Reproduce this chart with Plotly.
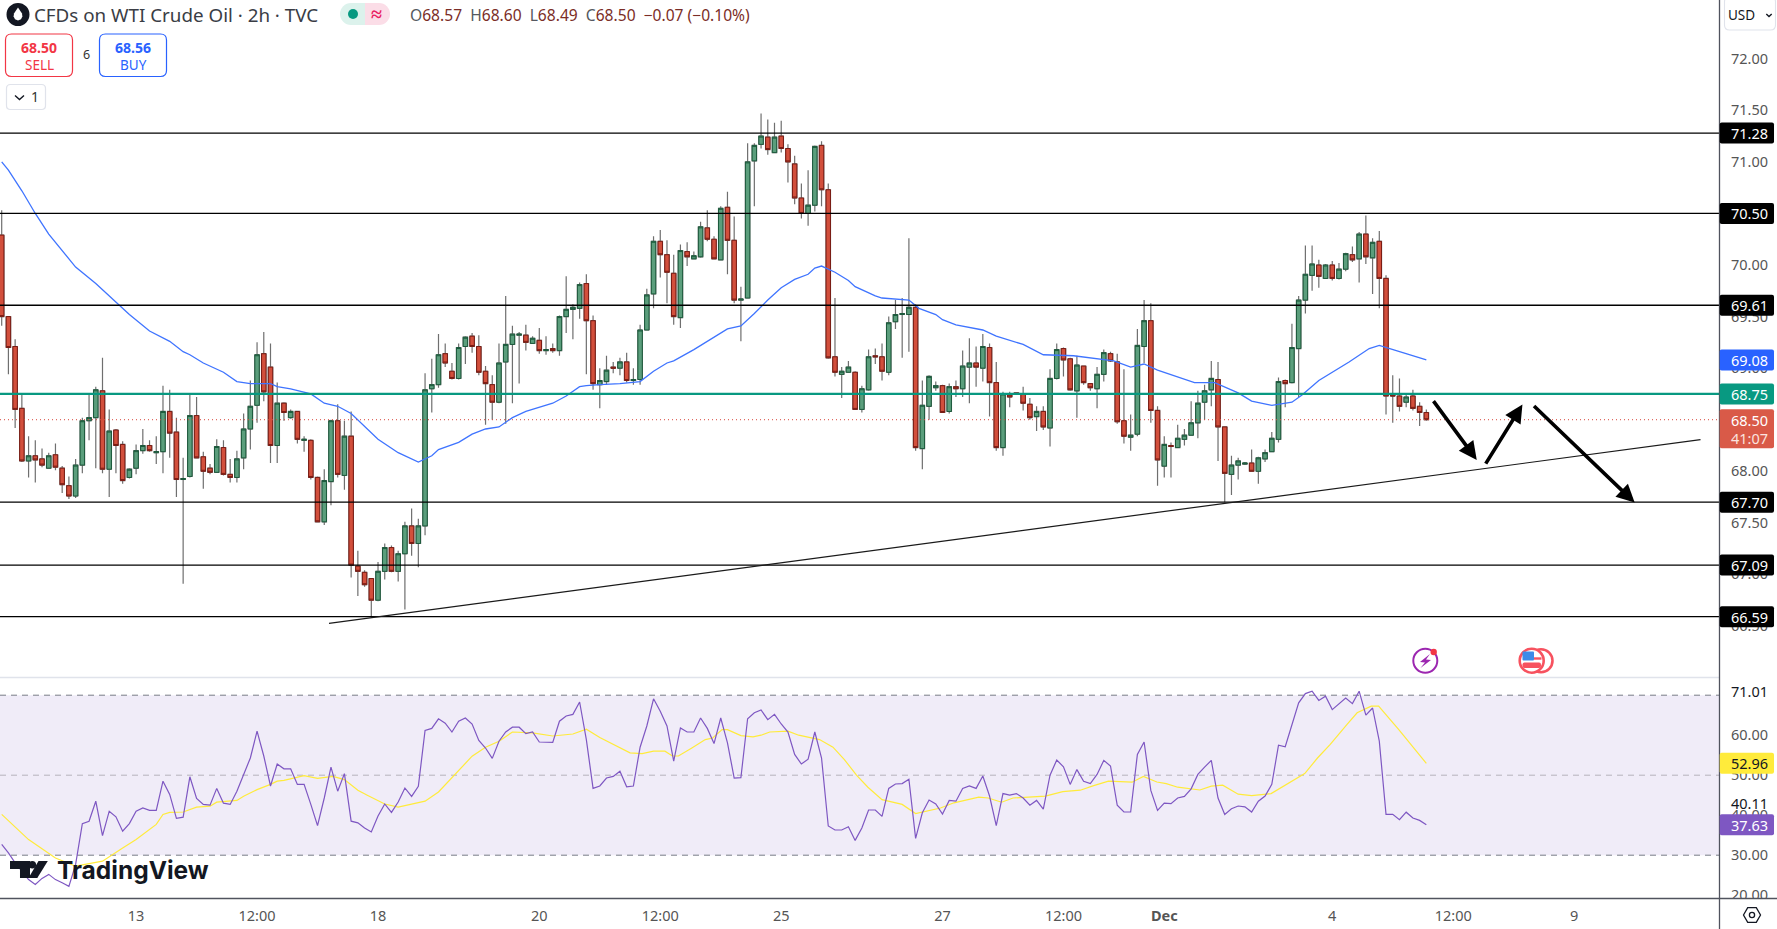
import numpy as np
import plotly.graph_objects as go

open_ = [
70.29,69.50,69.21,68.61,68.10,68.15,68.12,68.03,68.16,68.03,
67.86,67.76,68.06,68.49,68.52,68.78,68.02,68.40,68.26,67.94,
68.03,68.20,68.25,68.18,68.19,68.58,68.38,67.92,67.95,68.54,
68.14,68.03,67.99,68.23,67.97,67.94,68.13,68.41,68.64,69.14,
69.01,68.25,68.66,68.52,68.58,68.30,68.30,67.94,67.51,67.90,
68.49,67.96,68.34,67.08,67.02,66.96,66.75,67.03,67.26,67.03,
67.20,67.47,67.30,67.47,68.80,68.84,69.14,68.97,68.90,69.21,
69.31,69.21,68.97,68.84,68.67,69.06,69.23,69.32,69.32,69.24,
69.27,69.17,69.19,69.17,69.50,69.57,69.58,69.82,69.46,68.84,
68.87,69.01,69.00,69.06,68.88,68.89,69.37,69.72,70.23,70.10,
69.92,69.49,70.13,70.06,70.08,70.36,70.25,70.05,70.56,70.24,
69.66,69.68,71.01,71.17,71.24,71.09,71.25,71.13,70.98,70.65,
70.50,70.58,71.16,70.73,69.11,68.94,68.96,68.96,68.60,68.79,
69.12,69.11,68.96,69.45,69.52,69.52,69.59,68.22,68.63,68.81,
68.83,68.58,68.82,68.80,69.01,69.05,69.00,69.20,68.86,68.23,
68.74,68.76,68.75,68.65,68.53,68.58,68.42,68.90,69.19,69.09,
68.78,69.02,68.85,68.80,68.94,69.14,69.06,68.49,68.33,68.36,
69.21,69.46,68.59,68.05,68.25,68.23,68.31,68.35,68.47,68.67,
68.79,68.89,68.43,67.97,68.06,68.07,68.08,68.00,68.12,68.19,
68.31,68.88,68.86,69.19,69.66,69.90,70.00,69.87,70.00,69.87,
69.96,70.10,70.06,70.30,70.07,70.23,69.87,68.74,68.73,68.67,
68.73,68.63,68.57]
close = [
69.50,69.20,68.60,68.10,68.15,68.11,68.06,68.15,68.04,67.87,
67.76,68.06,68.49,68.52,68.79,68.02,68.39,68.25,67.91,68.02,
68.20,68.25,68.20,68.19,68.58,68.37,67.92,67.93,68.54,68.13,
68.00,67.99,68.24,67.97,67.94,68.12,68.41,68.63,69.13,68.77,
68.25,68.66,68.57,68.58,68.31,68.31,67.94,67.51,67.91,68.49,
67.97,68.34,67.09,67.03,66.90,66.75,67.03,67.26,67.03,67.20,
67.47,67.30,67.47,68.79,68.84,69.13,69.05,68.90,69.20,69.30,
69.21,68.96,68.85,68.67,69.05,69.23,69.33,69.33,69.25,69.29,
69.17,69.18,69.17,69.50,69.57,69.59,69.81,69.46,68.85,68.88,
68.98,69.00,69.06,68.88,68.89,69.37,69.71,70.23,70.10,69.93,
69.50,70.14,70.08,70.09,70.37,70.25,70.06,70.55,70.24,69.66,
69.67,71.00,71.16,71.25,71.12,71.24,71.13,71.00,70.65,70.50,
70.58,71.15,70.73,69.10,68.96,68.97,69.01,68.60,68.80,69.11,
69.11,68.97,69.44,69.52,69.53,69.59,68.23,68.64,68.92,68.83,
68.57,68.82,68.80,69.02,69.05,69.01,69.21,68.86,68.23,68.75,
68.72,68.75,68.66,68.52,68.58,68.43,68.90,69.18,69.08,68.79,
69.03,68.86,68.81,68.94,69.15,69.07,68.48,68.34,68.35,69.22,
69.46,68.59,68.11,68.26,68.24,68.32,68.35,68.47,68.66,68.78,
68.90,68.43,67.98,68.06,68.10,68.08,68.00,68.13,68.18,68.32,
68.87,68.85,69.20,69.66,69.91,70.01,69.89,70.00,69.87,69.96,
70.11,70.05,70.30,70.08,70.22,69.87,68.73,68.73,68.63,68.72,
68.61,68.57,68.50]
high = [
70.53,69.50,69.28,68.74,68.34,68.30,68.22,68.18,68.27,68.05,
67.95,68.12,68.52,68.75,68.82,69.10,68.60,68.41,68.29,68.03,
68.26,68.41,68.30,68.34,68.83,68.79,68.52,68.13,68.76,68.72,
68.19,68.07,68.31,68.30,68.12,68.20,68.56,68.88,69.25,69.35,
69.24,68.86,68.67,68.60,68.58,68.34,68.31,67.95,68.02,68.50,
68.65,68.49,68.58,67.23,67.04,66.96,67.12,67.30,67.28,67.23,
67.51,67.64,67.54,68.95,69.09,69.33,69.24,69.05,69.24,69.31,
69.34,69.32,69.02,68.93,69.24,69.70,69.41,69.35,69.42,69.31,
69.39,69.31,69.24,69.51,69.89,69.62,69.83,69.91,69.51,69.00,
69.12,69.06,69.10,69.15,69.00,69.42,69.77,70.28,70.34,70.24,
70.10,70.20,70.22,70.13,70.42,70.53,70.28,70.57,70.71,70.47,
69.79,71.18,71.18,71.47,71.41,71.38,71.40,71.17,71.06,70.79,
70.92,71.16,71.20,70.79,69.68,69.01,69.07,68.97,68.83,69.18,
69.19,69.24,69.50,69.66,69.68,70.26,69.62,68.88,68.93,68.87,
68.84,68.85,68.88,69.17,69.29,69.21,69.33,69.24,69.06,68.77,
68.77,68.76,68.82,68.71,68.63,68.63,68.99,69.24,69.20,69.10,
69.12,69.02,68.85,69.01,69.18,69.16,69.14,68.99,68.55,69.38,
69.66,69.63,68.63,68.34,68.28,68.45,68.41,68.68,68.78,68.84,
69.07,69.06,68.43,68.15,68.13,68.09,68.21,68.14,68.21,68.38,
68.91,68.89,69.43,69.70,70.19,70.19,70.05,70.01,70.04,70.02,
70.12,70.18,70.32,70.48,70.26,70.33,69.90,68.93,68.90,68.74,
68.79,68.67,68.60]
low = [
69.41,68.94,68.42,68.09,67.94,67.89,68.04,68.03,68.01,67.79,
67.73,67.74,67.98,68.30,68.03,67.98,67.75,67.98,67.88,67.93,
67.97,68.17,68.19,68.07,67.98,68.13,67.75,66.91,67.94,68.13,
67.83,67.97,67.99,67.96,67.89,67.89,68.02,68.21,68.47,68.68,
68.08,68.08,68.49,68.51,68.27,68.19,67.92,67.51,67.48,67.67,
67.94,67.82,66.97,66.79,66.88,66.59,66.74,66.95,67.02,66.93,
66.66,67.18,67.07,67.38,68.57,68.81,69.01,68.89,68.89,69.04,
69.15,68.93,68.45,68.50,68.66,68.46,68.66,68.85,69.17,69.24,
69.14,69.13,69.15,69.12,69.34,69.28,69.48,68.94,68.79,68.61,
68.84,68.95,68.93,68.86,68.84,68.84,69.37,69.58,69.88,69.63,
69.42,69.39,69.99,70.06,70.07,70.23,70.06,70.05,69.91,69.63,
69.26,69.68,70.57,71.13,71.07,71.09,71.09,70.80,70.59,70.45,
70.38,70.52,70.57,69.09,68.92,68.71,68.96,68.60,68.57,68.78,
69.04,68.88,68.93,69.38,69.10,69.16,68.20,68.02,68.50,68.78,
68.57,68.56,68.72,68.72,68.66,68.82,68.87,68.53,68.20,68.15,
68.62,68.74,68.59,68.50,68.39,68.40,68.24,68.89,68.92,68.78,
68.52,68.84,68.78,68.61,68.87,69.06,68.46,68.27,68.20,68.34,
69.05,68.47,67.86,67.94,67.94,68.23,68.25,68.35,68.32,68.50,
68.63,68.10,67.70,67.77,67.92,68.06,68.00,67.88,68.09,68.19,
68.28,68.62,68.85,68.72,69.53,69.75,69.78,69.87,69.85,69.86,
69.94,70.03,69.83,70.01,69.72,69.58,68.55,68.47,68.58,68.62,
68.59,68.44,68.49]

rsi = [
32.7,30.6,28.1,26.0,23.9,22.7,24.2,25.2,23.9,23.1,
22.2,27.7,37.9,38.5,43.5,34.9,41.0,39.6,36.0,37.9,
41.0,41.8,41.2,41.2,48.5,45.2,39.2,39.5,49.6,44.2,
42.7,42.5,46.7,43.0,42.7,46.0,50.3,54.3,61.0,54.8,
47.3,52.8,51.6,51.6,47.7,47.7,42.7,37.4,44.3,52.0,
46.0,50.4,38.5,38.1,36.8,35.8,39.8,42.8,40.7,43.3,
46.8,44.7,47.2,61.2,61.7,64.1,63.0,60.8,63.5,64.3,
62.8,58.7,56.8,54.2,58.5,60.8,62.0,62.0,60.4,60.8,
58.3,58.3,58.2,63.5,64.8,65.2,68.3,58.9,46.7,47.3,
49.3,49.7,51.0,47.1,47.3,57.0,62.3,69.1,66.0,62.3,
53.5,61.8,60.8,60.8,64.3,61.7,57.9,64.3,58.1,49.3,
49.4,64.1,65.6,66.3,63.9,65.2,62.8,60.8,55.2,52.8,
54.0,60.8,54.3,37.3,36.3,36.3,37.1,33.7,36.8,41.3,
41.3,39.7,46.7,47.8,47.9,49.0,34.2,40.6,43.8,42.8,
40.3,43.7,43.5,46.7,47.3,46.7,49.8,44.8,37.4,45.4,
45.0,45.4,44.3,42.5,43.7,41.5,50.0,53.8,52.1,47.7,
51.4,48.5,47.9,50.2,53.7,52.3,42.5,40.8,40.8,55.2,
58.3,46.2,41.2,43.0,42.9,44.3,44.7,46.6,50.2,52.0,
53.7,44.3,40.2,41.6,42.3,42.1,40.8,43.5,44.8,47.7,
57.5,57.1,62.3,68.1,70.4,71.01,68.7,69.75,66.4,67.9,
69.3,67.9,71.0,65.0,66.8,58.5,40.2,40.2,38.9,40.75,
39.3,38.7,37.63]

ema_index = [0,1,3,5,7,11,14,17,19,22,25,27,28,30,33,35,37,40,41,43,46,48,50,52,54,56,59,62,64,65,
68,70,72,74,76,78,82,84,86,87,89,92,95,97,99,100,103,106,108,110,112,114,116,118,120,121,122,124,126,127,
130,131,135,136.5,139,140,142,146,148,152,155,159.5,163.5,165.5,168,170,172,176,177.5,180.5,184,186,189,192,193.5,196,200.5,203.5,205,208.5,212]
ema_value = [71.00,70.92,70.72,70.50,70.30,69.98,69.82,69.64,69.52,69.36,69.26,69.16,69.13,69.05,68.96,68.87,68.85,68.85,68.82,68.80,68.75,68.66,68.63,68.56,68.43,68.31,68.18,68.09,68.15,68.21,
68.28,68.36,68.41,68.43,68.52,68.58,68.66,68.73,68.82,68.83,68.84,68.85,68.87,68.97,69.05,69.07,69.18,69.30,69.38,69.41,69.53,69.66,69.78,69.86,69.91,69.97,69.99,69.93,69.85,69.79,
69.70,69.68,69.66,69.58,69.52,69.47,69.42,69.37,69.31,69.23,69.13,69.12,69.09,69.07,69.01,69.04,68.98,68.89,68.86,68.86,68.76,68.68,68.64,68.67,68.74,68.88,69.06,69.19,69.22,69.15,69.08]

sma_index = [0,1.5,4,6,8,11,13,15,18,20,23,24,25,27,29,31,32,35,36,38,40,41,42,45,47,49.3,51,53,54.4,57,59,61,63,65,68,70,72,74,76,79,82,85,87,89,
93.5,95.3,97,98.7,99.8,100.7,102.7,104.7,105.8,107.2,108,110,111.8,113,114.3,117,118.6,120.3,121.7,123.7,125.4,127.2,128.9,131,134,136,138,139.7,141.7,143.7,145.4,146.8,148.8,150.5,153.4,155.3,157.9,160.5,162.5,164.7,168.2,169.9,171.9,173.3,175,177.3,178.3,
180,181.7,184,186,188.9,191.7,193.9,195.8,197.7,200.2,201.7,203.8,204.9,207.9,212]
sma_value = [40.2,37.8,33.9,31.6,29.3,27.25,27.8,28.5,31.8,33.9,37.7,40.2,40.7,40.8,42,42.25,43.25,43.7,44.75,46.4,47.7,48.5,48.7,49.9,49.2,49.7,48.9,46.25,45,42.8,42,42.8,43.5,45.8,51.2,54.75,57,58.5,60.8,60.6,59.8,60.3,61.5,59.4,
55.6,55.4,56,56,54.8,54.8,56.8,58.9,59.3,61.4,61.4,59.9,59.6,60,60.8,61,60,59.3,58.9,57,53.9,50,47,43.9,42.7,40.4,41.2,41.8,43.1,43.9,44.5,44.3,43.25,44.3,44.6,44.75,45.9,46.25,47.4,48.5,48.25,49.7,48.3,47.9,47,46.5,46.3,
47.25,47.5,45.25,44.9,45.4,48.1,50.4,54.3,57.7,62.7,65.6,67.25,67.25,61.4,52.96]

level_prices = [71.28, 70.50, 69.61, 67.70, 67.09, 66.59]
support_price = 68.75
last_price = 68.50
trend_x = [48.7, 252.8]
trend_y = [66.525, 68.307]
arrow_start_x = [212.9, 220.7, 227.8]
arrow_start_y = [68.695, 68.06, 68.647]
arrow_end_x = [219.5, 226.3, 243.0]
arrow_end_y = [68.11, 68.647, 67.696]
x_tick_index = [20, 38, 56, 80, 98, 116, 140, 158, 173, 198, 216, 234]
x_tick_text = ["13", "12:00", "18", "20", "12:00", "25", "27", "12:00", "<b>Dec</b>", "4", "12:00", "9"]
price_ticks = [72, 71.5, 71, 70.5, 70, 69.5, 69, 68.5, 68, 67.5, 67, 66.5]
rsi_ticks = [60, 50, 40, 30, 20]

# ---- layout geometry
W, H = 1777, 929
PW, PH = 1719, 898
PANE = 677
FONT = "Noto Sans"
XR = [-0.253, 255.55]
YR = [66.005, 72.57]
YR2 = [19.3, 74.3]
GREEN, GREEN_D = "#5b9e7c", "#1c5a3c"
RED, RED_D = "#d24f3c", "#7a1c14"
WICK = "#6f6f6f"

fx = lambda px: px / PW
fy = lambda py: 1 - py / PH
price_py = lambda p: (YR[1] - p) / (YR[1] - YR[0]) * PANE
rsi_py = lambda v: 678 + (YR2[1] - v) / (YR2[1] - YR2[0]) * (PH - 678)

o, c, h, l = map(np.array, (open_, close, high, low))
idx = list(range(len(open_)))
fig = go.Figure()
fig.add_trace(go.Candlestick(x=idx, open=open_, high=high, low=low, close=close, whiskerwidth=0,
    increasing=dict(line=dict(color=WICK, width=1.2), fillcolor=GREEN),
    decreasing=dict(line=dict(color=WICK, width=1.2), fillcolor=RED), hoverinfo="skip", xaxis="x", yaxis="y"))
fig.add_trace(go.Candlestick(x=idx, open=open_, close=close, high=np.maximum(o, c), low=np.minimum(o, c), whiskerwidth=0,
    increasing=dict(line=dict(color=GREEN_D, width=1), fillcolor=GREEN),
    decreasing=dict(line=dict(color=RED_D, width=1), fillcolor=RED), hoverinfo="skip", xaxis="x", yaxis="y"))
fig.add_trace(go.Scatter(x=ema_index, y=ema_value, mode="lines", line=dict(color="#3f74ff", width=1.3), hoverinfo="skip", xaxis="x", yaxis="y"))
fig.add_trace(go.Scatter(x=sma_index, y=sma_value, mode="lines", line=dict(color="#ffeb3b", width=1.2), hoverinfo="skip", xaxis="x", yaxis="y2"))
fig.add_trace(go.Scatter(x=idx, y=rsi, mode="lines", line=dict(color="#7e57c2", width=1.2), hoverinfo="skip", xaxis="x", yaxis="y2"))

shapes = []
def line_data(x0, y0, x1, y1, color, width, dash="solid", yref="y", layer="above"):
    shapes.append(dict(type="line", xref="x", yref=yref, x0=x0, y0=y0, x1=x1, y1=y1, layer=layer,
                       line=dict(color=color, width=width, dash=dash)))
def line_px(x0, y0, x1, y1, color, width):
    shapes.append(dict(type="line", xref="paper", yref="paper", x0=fx(x0), y0=fy(y0), x1=fx(x1), y1=fy(y1),
                       line=dict(color=color, width=width)))
def path_px(pts, color=None, fill=None, width=1.5, close_path=False):
    d = "M" + " L".join(f"{fx(a):.5f},{fy(b):.5f}" for a, b in pts) + (" Z" if close_path else "")
    shapes.append(dict(type="path", xref="paper", yref="paper", path=d, fillcolor=fill or "rgba(0,0,0,0)",
                       line=dict(color=color or "rgba(0,0,0,0)", width=width)))
def rrect(x0, y0, x1, y1, r, fill=None, stroke=None, width=1):
    P = lambda a, b: f"{fx(a):.5f},{fy(b):.5f}"
    d = (f"M{P(x0+r,y0)} L{P(x1-r,y0)} Q{P(x1,y0)} {P(x1,y0+r)} L{P(x1,y1-r)} Q{P(x1,y1)} {P(x1-r,y1)} "
         f"L{P(x0+r,y1)} Q{P(x0,y1)} {P(x0,y1-r)} L{P(x0,y0+r)} Q{P(x0,y0)} {P(x0+r,y0)} Z")
    shapes.append(dict(type="path", xref="paper", yref="paper", path=d, fillcolor=fill or "rgba(0,0,0,0)",
                       line=dict(color=stroke or "rgba(0,0,0,0)", width=width)))
def circle(cx, cy, r, fill=None, stroke=None, width=1):
    shapes.append(dict(type="circle", xref="paper", yref="paper", x0=fx(cx-r), x1=fx(cx+r), y0=fy(cy+r), y1=fy(cy-r),
                       fillcolor=fill or "rgba(0,0,0,0)", line=dict(color=stroke or "rgba(0,0,0,0)", width=width)))

# RSI band and its guide lines
shapes.append(dict(type="rect", xref="x", yref="y2", x0=XR[0], x1=XR[1], y0=30, y1=70, layer="below",
                   fillcolor="#f0ecf8", line=dict(width=0)))
line_data(XR[0], 70, XR[1], 70, "#787b86", 1, "6px,5px", "y2", "below")
line_data(XR[0], 50, XR[1], 50, "#b5b3bb", 1, "6px,5px", "y2", "below")
line_data(XR[0], 30, XR[1], 30, "#787b86", 1, "6px,5px", "y2", "below")

# horizontal levels and drawings
for p in level_prices:
    line_data(XR[0], p, XR[1], p, "#000000", 1.3)
line_data(XR[0], support_price, XR[1], support_price, "#089981", 2.2)
line_data(XR[0], last_price, XR[1], last_price, "#d9453a", 1, "1px,3px")
line_data(trend_x[0], trend_y[0], trend_x[1], trend_y[1], "#1a1a1a", 1.2)

# frame lines
line_px(0, PANE + .5, PW, PANE + .5, "#e0e3eb", 1.5)
rrect(PW + 1, PH, W, H, 0, fill="#ffffff")
line_px(0, PH + .5, W, PH + .5, "#50535e", 1.3)
line_px(PW + .5, 0, PW + .5, H, "#50535e", 1.3)

# top-left controls
circle(18, 14.5, 11.5, fill="#131722")
path_px([(18, 7.5), (14, 13.5), (13.6, 16.5), (15, 19.2), (18, 20.5), (21, 19.2), (22.4, 16.5), (22, 13.5)], fill="#ffffff", close_path=True)
circle(351, 14, 11, fill="#dcf2ec")
rrect(351, 3, 365, 25, 0, fill="#dcf2ec")
circle(379, 14, 11, fill="#fbdde7")
rrect(365, 3, 379, 25, 0, fill="#fbdde7")
circle(353, 14, 5, fill="#089981")
rrect(5.5, 34, 72.5, 76.5, 6, fill="#ffffff", stroke="#f23645", width=1.2)
rrect(99.5, 34, 166.5, 76.5, 6, fill="#ffffff", stroke="#2962ff", width=1.2)
rrect(6.5, 84.5, 45.5, 109.5, 4, fill="#ffffff", stroke="#e0e3eb", width=1.2)
path_px([(15, 95.5), (19.5, 99.5), (24, 95.5)], color="#131722", width=1.4)
rrect(1724.5, -3, 1775.5, 30, 5, fill="#ffffff", stroke="#e0e3eb", width=1.1)
path_px([(1766.3, 14), (1769, 16.5), (1771.7, 14)], color="#131722", width=1.4)

# axis badges
def badge(cy, fill, top=10.5, bottom=10.5):
    rrect(1719.7, cy - top, 1774, cy + bottom, 2, fill=fill)
for p in level_prices:
    badge(price_py(p), "#000000")
badge(price_py(69.08), "#2962ff")
badge(price_py(support_price), "#089981")
badge(price_py(last_price), "#d95a48", 10.5, 28.5)
badge(rsi_py(52.96), "#ffeb3b")
badge(rsi_py(37.63), "#7e57c2")

# event icons
circle(1425.3, 660.7, 12, stroke="#9c27b0", fill="#ffffff", width=2)
path_px([(1430, 654), (1420, 662), (1425, 662.5), (1420.5, 668), (1431, 660), (1426, 659.5)], fill="#9c27b0", close_path=True)
circle(1433.7, 652, 3.2, fill="#f23645")
circle(1541, 660.7, 11.5, fill="#ffffff", stroke="#f7525f", width=2.6)
circle(1531.7, 660.7, 12, fill="#ffffff", stroke="#f7525f", width=2.6)
rrect(1522.5, 662.5, 1541, 668, 2, fill="#f7525f")
path_px([(1534, 658.5), (1541.5, 658.5)], color="#f7525f", width=2.4)
rrect(1522.5, 651.5, 1534, 660.5, 1, fill="#3d8be8")

# settings hexagon
path_px([(1743.5, 915), (1747.7, 907.7), (1756.3, 907.7), (1760.5, 915), (1756.3, 922.3), (1747.7, 922.3)], color="#131722", width=1.3, close_path=True)
circle(1752, 915, 2.6, stroke="#131722", width=1.3)

# TradingView mark
path_px([(10, 861), (30, 861), (30, 878), (20, 878), (20, 869), (10, 869)], fill="#131722", close_path=True)
circle(32.3, 864.8, 3.8, fill="#131722")
path_px([(38.5, 861), (47.8, 861), (37.3, 878), (28.5, 878)], fill="#131722", close_path=True)

annos = []
def txt(x, y, s, size=14, color="#555555", anchor="left", family=FONT):
    annos.append(dict(x=fx(x), y=fy(y), xref="paper", yref="paper", text=s, showarrow=False, xanchor=anchor, yanchor="middle",
                      borderpad=0, font=dict(size=size, color=color, family=family)))
txt(33, 14.5, "CFDs on WTI Crude Oil · 2h · TVC", 18.8, "#3a3d45")
txt(376, 14, "<b>≈</b>", 20, "#e91e63", "center")
val = "#7b2d26"; gr = "#555960"
ohlc = "".join(f'<span style="color:{gr}">{a}</span><span style="color:{val}">{b}</span>&#160;&#160;'
               for a, b in (("O", "68.57"), ("H", "68.60"), ("L", "68.49"), ("C", "68.50")))
txt(409, 15, ohlc + f'<span style="color:{val}">−0.07 (−0.10%)</span>', 15.6, val)
txt(39, 47.5, "<b>68.50</b>", 14, "#f23645", "center")
txt(39, 65, "SELL", 13.5, "#f23645", "center")
txt(86, 54, "6", 12.5, "#333333", "center")
txt(133, 47.5, "<b>68.56</b>", 14, "#2962ff", "center")
txt(133, 65, "BUY", 13.5, "#2962ff", "center")
txt(35, 97, "1", 14, "#333333", "center")
txt(1741.5, 15, "USD", 13.5, "#131722", "center")
for p in level_prices:
    txt(1749, price_py(p), f"{p:.2f}", 14.5, "#ffffff", "center")
txt(1749, price_py(69.08), "69.08", 14.5, "#ffffff", "center")
txt(1749, price_py(support_price), "68.75", 14.5, "#ffffff", "center")
txt(1749, price_py(last_price), "68.50", 14.5, "#ffffff", "center")
txt(1749, price_py(last_price) + 18.5, "41:07", 14.5, "#fbe3df", "center")
txt(1749, rsi_py(52.96), "52.96", 14.5, "#131722", "center")
txt(1749, rsi_py(37.63), "37.63", 14.5, "#ffffff", "center")
txt(1749, 690.7, "71.01", 14.5, "#131722", "center")
txt(1749, 802.7, "40.11", 14.5, "#131722", "center")
txt(56, 870, "<b>TradingView</b>", 24.5, "#131722", "left", "Inter")

for x0, y0, x1, y1 in zip(arrow_start_x, arrow_start_y, arrow_end_x, arrow_end_y):
    annos.append(dict(x=x1, y=y1, ax=x0, ay=y0, xref="x", yref="y", axref="x", ayref="y", text="", showarrow=True,
                      arrowhead=2, arrowsize=1.0, arrowwidth=3.6, arrowcolor="#000000"))

tickfont = dict(family=FONT, size=14.5, color="#555555")
fig.update_layout(
    width=W, height=H, autosize=False, showlegend=False, paper_bgcolor="#ffffff", plot_bgcolor="#ffffff",
    margin=dict(l=0, r=W - PW, t=0, b=H - PH, pad=0),
    boxmode="overlay", boxgap=0.34, boxgroupgap=0,
    xaxis=dict(range=XR, anchor="y2", tickmode="array", tickvals=x_tick_index, ticktext=x_tick_text, showgrid=False,
               zeroline=False, showline=False, ticks="outside", ticklen=5, tickcolor="rgba(0,0,0,0)", tickfont=tickfont,
               rangeslider=dict(visible=False), fixedrange=True),
    yaxis=dict(range=YR, domain=[(PH - PANE) / PH, 1], side="right", anchor="x", tickmode="array", tickvals=price_ticks,
               ticktext=[f"{v:.2f}" for v in price_ticks], showgrid=False, zeroline=False, showline=False, ticks="",
               ticklabelstandoff=11, tickfont=tickfont, fixedrange=True),
    yaxis2=dict(range=YR2, domain=[0, (PH - 678) / PH], side="right", anchor="x", tickmode="array", tickvals=rsi_ticks,
                ticktext=[f"{v:.2f}" for v in rsi_ticks], showgrid=False, zeroline=False, showline=False, ticks="",
                ticklabelstandoff=11, tickfont=tickfont, fixedrange=True),
    shapes=shapes, annotations=annos,
)
fig.write_html("out.html", config=dict(displayModeBar=False),
               post_script="document.body.style.margin='0';document.documentElement.style.overflow='hidden';")
